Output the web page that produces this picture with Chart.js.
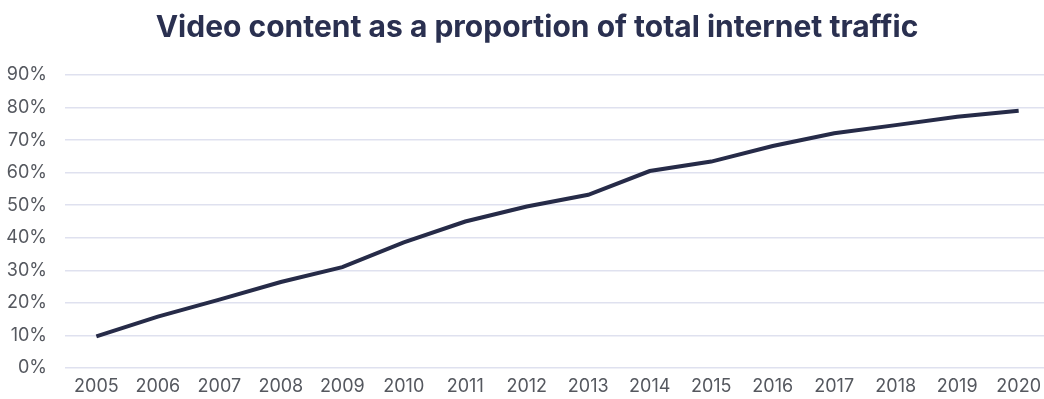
<!DOCTYPE html>
<html>
<head>
<meta charset="utf-8">
<script src="https://cdn.jsdelivr.net/npm/chart.js@4"></script>
<style>
  html, body { margin: 0; padding: 0; background: #fff; overflow: hidden; }
  #wrap { width: 1074px; height: 399px; }
</style>
</head>
<body>
<div id="wrap"><canvas id="videoChart"></canvas></div>
<script>
const years = [2005, 2006, 2007, 2008, 2009, 2010, 2011, 2012, 2013, 2014, 2015, 2016, 2017, 2018, 2019, 2020];
const videoShare = [9.7, 15.8, 21, 26.4, 31, 38.6, 45, 49.6, 53.2, 60.5, 63.4, 68.2, 72.1, 74.6, 77.2, 79];
const yTicks = [0, 10, 20, 30, 40, 50, 60, 70, 80, 90];

const ctx = document.getElementById('videoChart').getContext('2d');
const tickColor = '#55585f';

new Chart(ctx, {
    type: 'line',
    data: {
        datasets: [{
            label: 'video share',
            data: years.map((y, i) => ({ x: y, y: videoShare[i] })),
            borderColor: '#262b48',
            borderWidth: 4,
            pointRadius: 0,
            tension: 0,
            fill: false
        }]
    },
    options: {
        responsive: true,
        maintainAspectRatio: false,
        animation: false,
        layout: { padding: { left: 0, right: 0, top: 0, bottom: 1 } },
        scales: {
            x: {
                type: 'linear',
                min: 2004.49,
                max: 2020.9,
                afterBuildTicks: scale => { scale.ticks = years.map(v => ({ value: v })); },
                afterFit: scale => { scale.height = 30; },
                grid: { display: false, drawTicks: false },
                border: { display: false },
                ticks: {
                    color: tickColor,
                    font: { family: 'Inter', size: 18 },
                    padding: 8,
                    maxRotation: 0,
                    autoSkip: false,
                    callback: v => String(v)
                }
            },
            y: {
                min: 0,
                max: 90,
                afterBuildTicks: scale => { scale.ticks = yTicks.map(v => ({ value: v })); },
                afterFit: scale => { scale.width = 65; },
                grid: { color: '#dfe1ef', lineWidth: 1.5, drawTicks: false },
                border: { display: false },
                ticks: {
                    color: tickColor,
                    font: { family: 'Inter', size: 18 },
                    padding: 18,
                    callback: v => v + '%'
                }
            }
        },
        plugins: {
            legend: { display: false },
            tooltip: { enabled: false },
            title: {
                display: true,
                text: 'Video content as a proportion of total internet traffic',
                color: '#2a3050',
                font: { family: 'Inter', size: 30, weight: 'bold' },
                padding: { top: 10, bottom: 29 }
            }
        }
    }
});
</script>
</body>
</html>
